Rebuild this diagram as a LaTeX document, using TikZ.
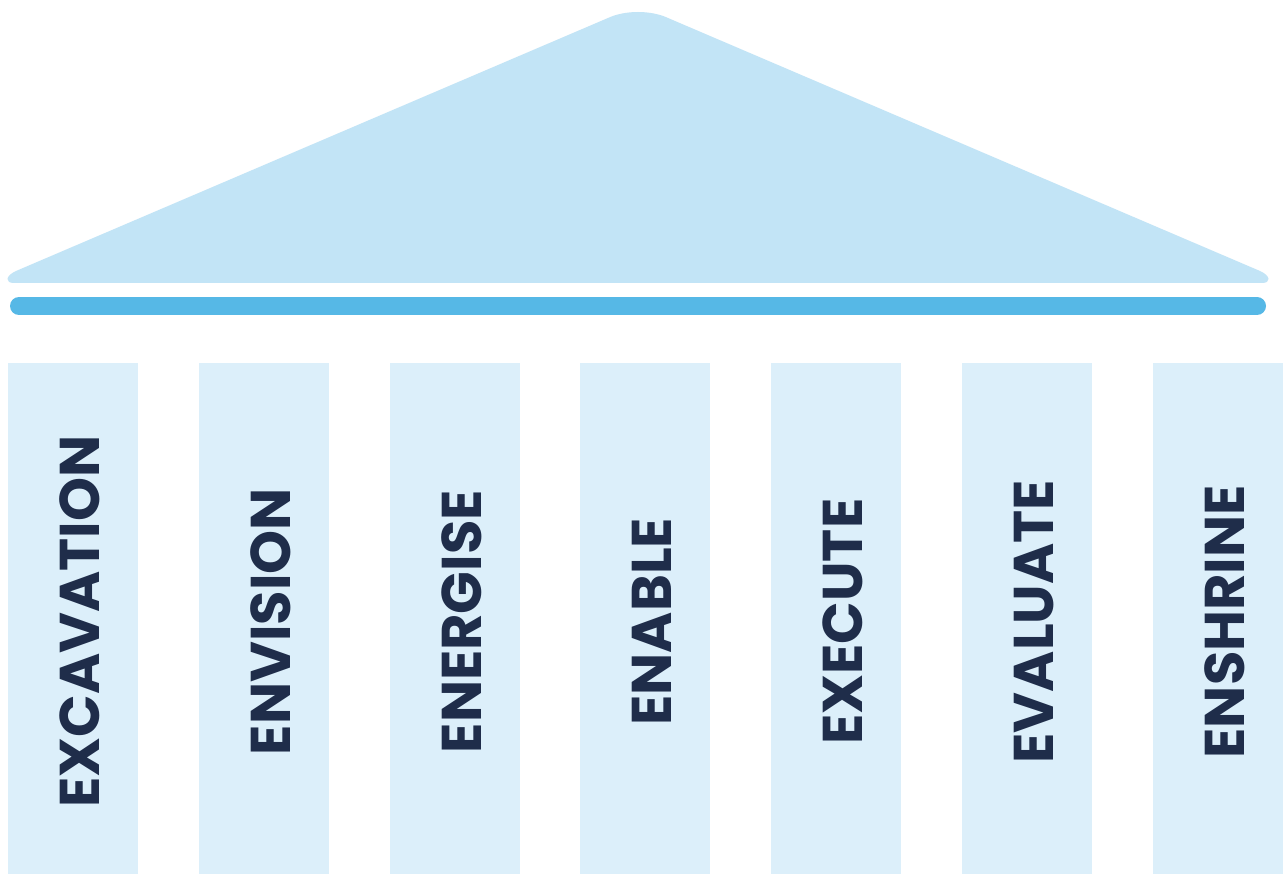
\documentclass[tikz,border=0pt]{standalone}
\usepackage{fontspec}
\setmainfont{Poppins}[BoldFont={* Bold}]
\definecolor{roofc}{HTML}{C2E4F6}
\definecolor{barc}{HTML}{56B8E6}
\definecolor{pillarc}{HTML}{DCEFFA}
\definecolor{textc}{HTML}{1F2D4A}
\tikzset{
  pillar/.style={fill=pillarc, inner sep=0pt, minimum width=130pt, minimum height=511pt, anchor=north west},
  pilltext/.style={text=textc, font=\fontsize{56}{56}\selectfont\bfseries, rotate=90, inner sep=0pt}
}
\begin{document}
\begin{tikzpicture}[x=1pt,y=-1pt]
\useasboundingbox (0,0) rectangle (1284,874);
\fill[white] (0,0) rectangle (1284,874);
\fill[roofc] (30,283) -- (14,283) .. controls (5,283) and (5,276) .. (16,271) -- (608,18) .. controls (625,10) and (651,10) .. (668,18) -- (1260,271) .. controls (1271,276) and (1271,283) .. (1262,283) -- cycle;
\coordinate (barL) at (19,306);
\coordinate (barR) at (1257,306);
\draw[barc, line width=18pt, line cap=round] (barL) -- (barR);
\foreach \i/\x/\t in {1/8/EXCAVATION, 2/199/ENVISION, 3/390/ENERGISE, 4/580/ENABLE, 5/771/EXECUTE, 6/962/EVALUATE, 7/1153/ENSHRINE}{
  \node[pillar] (p\i) at (\x,363) {};
  \node[pilltext] (t\i) at ([xshift=7pt, yshift=-3pt]p\i.center) {\t};
}
\end{tikzpicture}
\end{document}
